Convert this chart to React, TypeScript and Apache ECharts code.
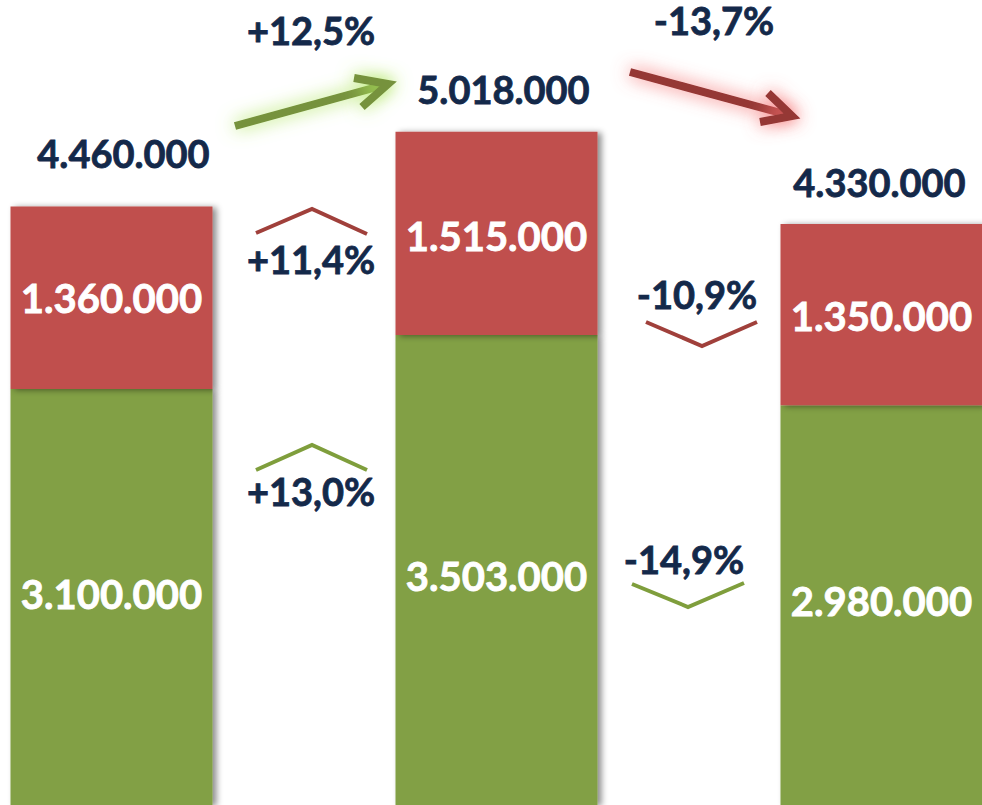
import React, { useEffect, useRef } from "react";
import * as echarts from "echarts";

const categories = ["A", "B", "C"];
const greenValues = [3100000, 3503000, 2980000];
const redValues = [1360000, 1515000, 1350000];
const totals = [4460000, 5018000, 4330000];
const changeTotal = ["+12,5%", "-13,7%"];
const changeRed = ["+11,4%", "-10,9%"];
const changeGreen = ["+13,0%", "-14,9%"];

const NAVY = "#14294A";
const GREEN = "#82A044";
const RED = "#C0504D";
const FONT = "Lato";

// the chart canvas is wider than the window and shifted left so bars land where the reference has them
const SHIFT = 81;
const CHART_W = 1155;

const fmt = (v: number) => String(v).replace(/\B(?=(\d{3})+(?!\d))/g, ".");

const totalOffsets = [[12, -30], [7, -19], [-2, -18]];
const redOffsets = [[0, 0], [0, 3], [0, 1]];
const greenOffsets = [[0, -3], [0, 6], [0, -4]];

export default function App() {
  const ref = useRef<HTMLDivElement>(null);
  useEffect(() => {
    if (!ref.current) return;
    const chart = echarts.init(ref.current, null, { renderer: "svg" });
    const P = (x: number, y: number) => [x + SHIFT, y];
    const barShadow = {
      shadowColor: "rgba(0,0,0,0.45)",
      shadowBlur: 6,
      shadowOffsetX: 4,
      shadowOffsetY: 1,
    };
    const innerLabel = {
      show: true,
      position: "inside",
      color: "#ffffff",
      fontFamily: FONT,
      fontWeight: "bold",
      fontSize: 40,
      textBorderColor: "#ffffff",
      textBorderWidth: 0.8,
      formatter: (p: any) => fmt(p.value),
    };
    const pctText = (text: string, x: number, y: number) => ({
      type: "text",
      x: x + SHIFT,
      y,
      style: {
        text,
        fill: NAVY,
        stroke: NAVY,
        lineWidth: 0.8,
        fontFamily: FONT,
        fontWeight: "bold",
        fontSize: 38,
        lineHeight: 34,
        align: "center",
        verticalAlign: "middle",
      },
    });
    const chevron = (pts: number[][], color: string) => ({
      type: "polyline",
      shape: { points: pts.map((p) => P(p[0], p[1])) },
      style: { stroke: color, lineWidth: 4, fill: "none", lineJoin: "miter" },
    });
    const arrow = (pts: number[][], head: number[][], color: string, glow: string) => ({
      type: "group",
      children: [pts, head].map((line) => ({
        type: "polyline",
        shape: { points: line.map((p) => P(p[0], p[1])) },
        style: {
          stroke: color,
          lineWidth: 8,
          fill: "none",
          lineJoin: "miter",
          shadowBlur: 18,
          shadowColor: glow,
        },
      })),
    });
    chart.setOption({
      animation: false,
      grid: { left: 0, right: 0, top: 0, bottom: 0, containLabel: false },
      xAxis: { type: "category", data: categories, show: false },
      yAxis: { type: "value", min: 0, max: 6000000, show: false, splitLine: { show: false } },
      series: [
        {
          type: "bar",
          stack: "s",
          barWidth: 202,
          data: greenValues.map((v, i) => ({ value: v, label: { offset: greenOffsets[i] } })),
          itemStyle: { color: GREEN, ...barShadow },
          label: innerLabel,
        },
        {
          type: "bar",
          stack: "s",
          barWidth: 202,
          data: redValues.map((v, i) => ({ value: v, label: { offset: redOffsets[i] } })),
          itemStyle: { color: RED, ...barShadow },
          label: innerLabel,
        },
        {
          type: "line",
          symbol: "circle",
          symbolSize: 0,
          showSymbol: true,
          lineStyle: { width: 0, opacity: 0 },
          itemStyle: { color: NAVY },
          data: totals.map((v, i) => ({ value: v, label: { offset: totalOffsets[i] } })),
          label: {
            show: true,
            position: "top",
            color: NAVY,
            fontFamily: FONT,
            fontWeight: "bold",
            fontSize: 38,
            textBorderColor: NAVY,
            textBorderWidth: 0.8,
            formatter: (p: any) => fmt(p.value),
          },
          z: 5,
        },
      ],
      graphic: [
        pctText(changeTotal[0], 311, 30),
        pctText(changeTotal[1], 714, 20),
        pctText(changeRed[0], 311, 259),
        pctText(changeRed[1], 697, 294),
        pctText(changeGreen[0], 311, 491),
        pctText(changeGreen[1], 684, 559),
        chevron([[256, 233], [312, 209], [367, 234]], "#A0403B"),
        chevron([[256, 470], [312, 445], [367, 470]], "#7F9E3C"),
        chevron([[646, 322], [702, 346], [757, 322]], "#A0403B"),
        chevron([[632, 584], [688, 607], [744, 583]], "#7F9E3C"),
        arrow([[235, 126], [388, 84]], [[354, 78], [388, 84], [362, 107]], "#76923C", "rgba(175,230,95,1)"),
        arrow([[630, 72], [792, 116]], [[768, 93], [792, 116], [760, 122]], "#953735", "rgba(245,110,110,1)"),
      ],
    });
    return () => chart.dispose();
  }, []);
  return (
    <div
      ref={ref}
      style={{ position: "fixed", left: -SHIFT, top: 0, width: CHART_W, height: 805, background: "#ffffff" }}
    />
  );
}
